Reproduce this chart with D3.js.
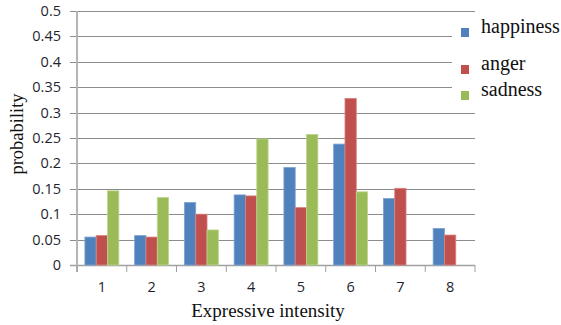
<!DOCTYPE html>
<html>
<head>
<meta charset="utf-8">
<script src="https://cdn.jsdelivr.net/npm/d3@7"></script>
<style>
  body { margin: 0; background: #fff; }
  svg { display: block; }
  .serif { font-family: "Liberation Serif", "Times New Roman", "DejaVu Serif", serif; }
  .sans { font-family: "Open Sans", "Liberation Sans", sans-serif; }
</style>
</head>
<body>
<script>
// Data
const categories = ["1", "2", "3", "4", "5", "6", "7", "8"];
const seriesNames = ["happiness", "anger", "sadness"];
const happiness = [0.055, 0.058, 0.123, 0.138, 0.192, 0.238, 0.131, 0.072];
const anger = [0.058, 0.055, 0.100, 0.136, 0.113, 0.328, 0.151, 0.059];
const sadness = [0.146, 0.133, 0.069, 0.248, 0.257, 0.144, 0, 0];
const yTicks = [0, 0.05, 0.1, 0.15, 0.2, 0.25, 0.3, 0.35, 0.4, 0.45, 0.5];

const colors = ["#4f81bd", "#c0504d", "#9bbb59"];
const strokes = ["#7ea3d3", "#d98583", "#bdd68c"];
const values = [happiness, anger, sadness];

const width = 561, height = 325;
const svg = d3.select("body").append("svg")
  .attr("width", width)
  .attr("height", height);

// Scales
const x0 = d3.scaleBand().domain(categories).range([77, 475]).padding(0);
const x1 = d3.scaleBand().domain(seriesNames)
  .range([7.9, x0.bandwidth() - 7.9]).padding(0);
const y = d3.scaleLinear().domain([0, 0.5]).range([265, 11]);

// Gridlines
svg.append("g")
  .selectAll("line")
  .data(yTicks)
  .join("line")
  .attr("x1", 70)
  .attr("x2", 475)
  .attr("y1", (d) => Math.round(y(d)) + 0.5)
  .attr("y2", (d) => Math.round(y(d)) + 0.5)
  .attr("stroke", (d) => (d === 0 ? "#a0a0a0" : "#8c8c8c"))
  .attr("stroke-width", (d) => (d === 0 ? 1.5 : 1));

// Y axis line
svg.append("line")
  .attr("x1", 77).attr("x2", 77)
  .attr("y1", y(0.5)).attr("y2", 272)
  .attr("stroke", "#b4b4b4")
  .attr("stroke-width", 2);

// X tick marks
svg.append("g")
  .selectAll("line")
  .data(d3.range(categories.length + 1))
  .join("line")
  .attr("x1", (i) => 77 + i * x0.step())
  .attr("x2", (i) => 77 + i * x0.step())
  .attr("y1", 265).attr("y2", 272)
  .attr("stroke", "#a0a0a0");

// Bars
const groups = svg.append("g")
  .selectAll("g")
  .data(categories)
  .join("g")
  .attr("transform", (d) => `translate(${x0(d)},0)`);

groups.selectAll("rect")
  .data((d, i) => seriesNames.map((s, k) => ({ s, k, v: values[k][i] })))
  .join("rect")
  .filter((d) => d.v > 0)
  .attr("x", (d) => x1(d.s))
  .attr("y", (d) => y(d.v))
  .attr("width", x1.bandwidth())
  .attr("height", (d) => y(0) - y(d.v))
  .attr("fill", (d) => colors[d.k])
  .attr("stroke", (d) => strokes[d.k])
  .attr("stroke-width", 0.8);

// Y tick labels
svg.append("g")
  .selectAll("text")
  .data(yTicks)
  .join("text")
  .attr("class", "sans")
  .attr("x", 61)
  .attr("y", (d) => y(d) + 5)
  .attr("text-anchor", "end")
  .attr("font-size", 14.5)
  .attr("fill", "#1f1f2f")
  .text((d) => d3.format("")(d));

// X tick labels
svg.append("g")
  .selectAll("text")
  .data(categories)
  .join("text")
  .attr("class", "sans")
  .attr("x", (d) => x0(d) + x0.bandwidth() / 2)
  .attr("y", 292)
  .attr("text-anchor", "middle")
  .attr("font-size", 14.5)
  .attr("fill", "#1f1f2f")
  .text((d) => d);

// Axis titles
svg.append("text")
  .attr("class", "serif")
  .attr("x", 268)
  .attr("y", 317)
  .attr("text-anchor", "middle")
  .attr("font-size", 19)
  .attr("fill", "#111")
  .text("Expressive intensity");

svg.append("text")
  .attr("class", "serif")
  .attr("transform", "translate(23,134) rotate(-90)")
  .attr("text-anchor", "middle")
  .attr("font-size", 18.5)
  .attr("fill", "#111")
  .text("probability");

// Legend
svg.append("rect")
  .attr("x", 452).attr("y", 14)
  .attr("width", 109).attr("height", 86)
  .attr("fill", "#fff");

const legendY = [33, 70, 96];
const legend = svg.append("g")
  .selectAll("g")
  .data(seriesNames)
  .join("g")
  .attr("transform", (d, i) => `translate(461,${legendY[i]})`);

legend.append("rect")
  .attr("x", 0).attr("y", -5)
  .attr("width", 8).attr("height", 9)
  .attr("fill", (d, i) => colors[i]);

legend.append("text")
  .attr("class", "serif")
  .attr("x", 20).attr("y", 0)
  .attr("font-size", 20)
  .attr("fill", "#111")
  .text((d) => d);
</script>
</body>
</html>
